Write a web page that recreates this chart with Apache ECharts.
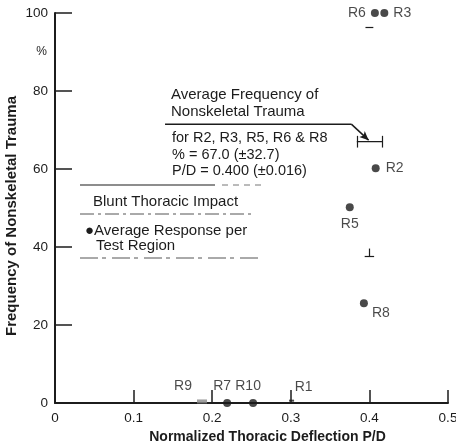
<!DOCTYPE html>
<html>
<head>
<meta charset="utf-8">
<script src="https://cdn.jsdelivr.net/npm/echarts@6/dist/echarts.min.js"></script>
<style>
  html, body { margin: 0; padding: 0; background: #fff; }
  #chart { width: 456px; height: 446px; }
</style>
</head>
<body>
<div id="chart"></div>
<script>
// test points (P/D, % frequency)
const pointNames = ["R6", "R3", "R2", "R5", "R8", "R9", "R7", "R10", "R1"];
const pointX = [0.407, 0.419, 0.408, 0.375, 0.393, 0.187, 0.219, 0.252, 0.301];
const pointY = [100, 100, 60.2, 50.2, 25.6, 0.4, 0, 0, 0.6];

// average response and its spread
const avgPoint = [0.400, 67.0];
const avgXRange = [0.384, 0.416];
const avgYCaps = [37.6, 96.4];

// arrow from the annotation to the average
const arrowPath = [[0.14, 71.5], [0.377, 71.5], [0.399, 67.4]];

const annotation = [
  "Average Frequency of",
  "Nonskeletal Trauma",
  "for R2, R3, R5, R6 & R8",
  "% = 67.0 (\u00b132.7)",
  "P/D = 0.400 (\u00b10.016)"
];
const legendLines = ["Blunt Thoracic Impact", "\u25cfAverage Response per", "Test Region"];

const font = "'Liberation Sans', Arial, sans-serif";
const ink = "#1c1c1c";

const labelStyle = {
  R6: { position: "left", distance: 5 },
  R3: { position: "right", distance: 5 },
  R2: { position: "right", distance: 6 },
  R5: { position: "bottom", distance: 6 },
  R8: { position: "right", distance: 4, offset: [0, 10] },
  R9: { position: "top", distance: 6, offset: [-19, 0] },
  R7: { position: "top", distance: 6, offset: [-5, 0] },
  R10: { position: "top", distance: 6, offset: [-5, 0] },
  R1: { position: "top", distance: 6, offset: [12, 0] }
};

const points = pointNames.map((n, i) => {
  const item = {
    name: n,
    value: [pointX[i], pointY[i]],
    label: Object.assign({ show: true, formatter: n, color: ink, fontSize: 14 }, labelStyle[n])
  };
  if (n === "R9") {
    item.symbol = "rect";
    item.symbolSize = [10, 4];
    item.itemStyle = { color: "#888" };
  } else if (n === "R1") {
    item.symbol = "rect";
    item.symbolSize = [5, 2];
  }
  return item;
});

const txt = (x, y, s, size) => ({
  type: "text", x: x, y: y,
  style: { text: s, font: size + "px " + font, fill: ink, verticalAlign: "middle" }
});

const chart = echarts.init(document.getElementById("chart"));

chart.setOption({
  animation: false,
  textStyle: { fontFamily: font },
  grid: { left: 55, right: 8, top: 13, bottom: 43, outerBoundsMode: "none" },
  xAxis: {
    type: "value",
    min: 0, max: 0.5, interval: 0.1,
    name: "Normalized Thoracic Deflection P/D",
    nameLocation: "middle",
    nameGap: 27,
    nameMoveOverlap: false,
    nameTextStyle: { color: ink, fontSize: 14, fontWeight: "bold", padding: [0, 0, 0, 32] },
    axisLine: { lineStyle: { color: ink, width: 2 } },
    axisTick: { inside: true, length: 13, lineStyle: { color: ink, width: 1.5 } },
    axisLabel: { color: ink, fontSize: 13.5, margin: 8, formatter: v => v === 0 ? "0" : v.toFixed(1) },
    splitLine: { show: false }
  },
  yAxis: [{
    type: "value",
    min: 0, max: 100, interval: 20,
    name: "Frequency of Nonskeletal Trauma",
    nameLocation: "middle",
    nameGap: 36,
    nameMoveOverlap: false,
    nameTextStyle: { color: ink, fontSize: 15, fontWeight: "bold", padding: [0, 16, 0, 0] },
    axisLine: { lineStyle: { color: ink, width: 2 } },
    axisTick: { inside: true, length: 17, lineStyle: { color: ink, width: 1.5 } },
    axisLabel: { color: ink, fontSize: 13.5, margin: 7 },
    splitLine: { show: false }
  }, {
    type: "value",
    min: 0, max: 100, interval: 10,
    position: "left",
    axisLine: { show: false },
    axisTick: { show: false },
    axisLabel: { color: ink, fontSize: 12, margin: 8, formatter: v => v === 90 ? "%" : "" },
    splitLine: { show: false }
  }],
  series: [{
    type: "scatter",
    symbolSize: 8,
    itemStyle: { color: ink },
    data: points,
    z: 5
  }, {
    // spread of the average response
    type: "line",
    symbol: "none",
    lineStyle: { color: ink, width: 1.2 },
    data: [[avgXRange[0], avgPoint[1]], [avgXRange[1], avgPoint[1]]],
    markLine: {
      silent: true,
      symbol: "none",
      label: { show: false },
      lineStyle: { color: ink, width: 1.2, type: "solid" },
      data: [
        [{ coord: [avgXRange[0], avgPoint[1] - 1.5] }, { coord: [avgXRange[0], avgPoint[1] + 1.5] }],
        [{ coord: [avgXRange[1], avgPoint[1] - 1.5] }, { coord: [avgXRange[1], avgPoint[1] + 1.5] }],
        [{ coord: [avgPoint[0] - 0.006, avgYCaps[0]] }, { coord: [avgPoint[0] + 0.006, avgYCaps[0]] }],
        [{ coord: [avgPoint[0], avgYCaps[0]] }, { coord: [avgPoint[0], avgYCaps[0] + 2] }],
        [{ coord: [avgPoint[0] - 0.005, avgYCaps[1]] }, { coord: [avgPoint[0] + 0.005, avgYCaps[1]] }]
      ]
    }
  }, {
    // annotation leader with arrow
    type: "line",
    symbol: "none",
    lineStyle: { color: ink, width: 1.5 },
    data: arrowPath.slice(0, 2),
    markLine: {
      silent: true,
      symbol: ["none", "arrow"],
      symbolSize: [6, 9],
      label: { show: false },
      lineStyle: { color: ink, width: 1.5, type: "solid" },
      data: [[{ coord: arrowPath[1] }, { coord: arrowPath[2] }]]
    }
  }],
  graphic: [
    txt(171, 95, annotation[0], 15),
    txt(171, 112, annotation[1], 15),
    txt(172, 138, annotation[2], 14.5),
    txt(172, 155, annotation[3], 14.5),
    txt(172, 171, annotation[4], 14.5),
    { type: "line", shape: { x1: 80, y1: 185, x2: 215, y2: 185 }, style: { stroke: ink, lineWidth: 1.2 } },
    { type: "line", shape: { x1: 222, y1: 185, x2: 262, y2: 185 }, style: { stroke: "#777", lineWidth: 1, lineDash: [6, 5] } },
    txt(93, 202, legendLines[0], 15),
    { type: "line", shape: { x1: 80, y1: 214, x2: 255, y2: 214 }, style: { stroke: "#555", lineWidth: 1, lineDash: [14, 4, 3, 4] } },
    txt(85, 231, legendLines[1], 15),
    txt(96, 246, legendLines[2], 15),
    { type: "line", shape: { x1: 80, y1: 258, x2: 258, y2: 258 }, style: { stroke: "#555", lineWidth: 1, lineDash: [18, 4, 4, 6] } }
  ]
});
</script>
</body>
</html>
